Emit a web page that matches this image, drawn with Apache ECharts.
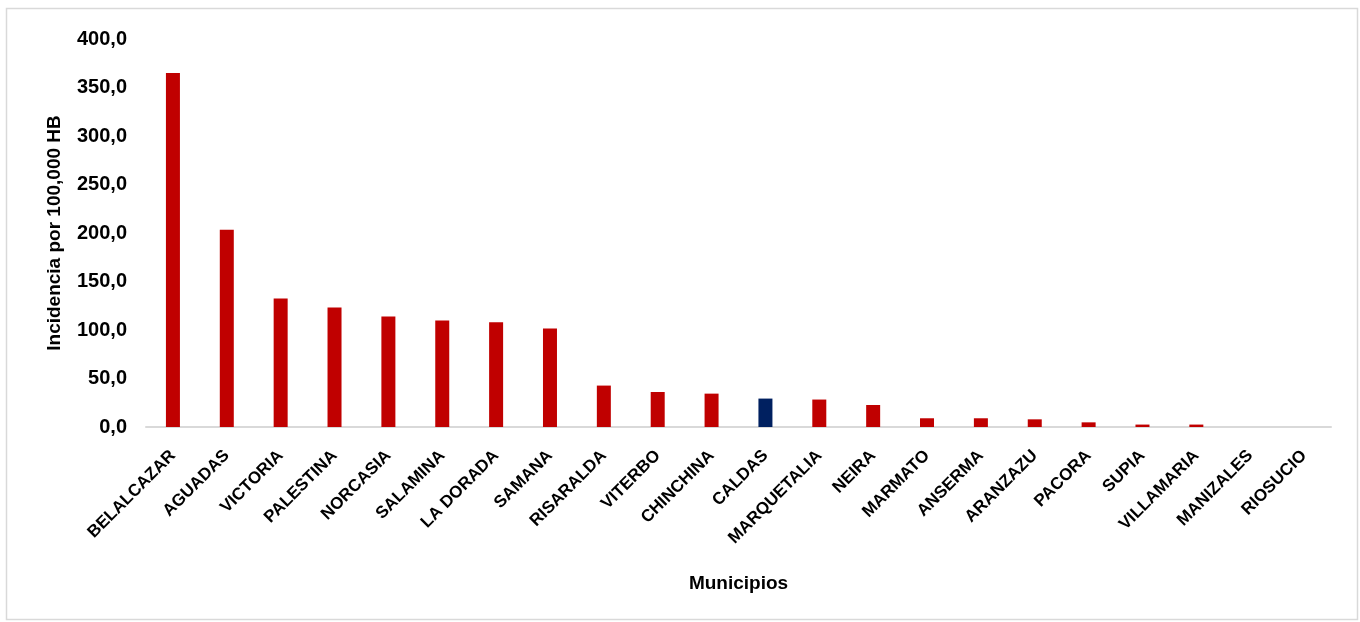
<!DOCTYPE html>
<html>
<head>
<meta charset="utf-8">
<script src="https://cdn.jsdelivr.net/npm/echarts@6/dist/echarts.min.js"></script>
<style>
html,body{margin:0;padding:0;background:#fff;}
#c{width:1360px;height:622px;}
</style>
</head>
<body>
<div id="c"></div>
<script>
const categories = ['BELALCAZAR','AGUADAS','VICTORIA','PALESTINA','NORCASIA','SALAMINA','LA DORADA','SAMANA','RISARALDA','VITERBO','CHINCHINA','CALDAS','MARQUETALIA','NEIRA','MARMATO','ANSERMA','ARANZAZU','PACORA','SUPIA','VILLAMARIA','MANIZALES','RIOSUCIO'];
const values = [365.0, 203.3, 132.5, 123.2, 113.9, 109.8, 108.0, 101.5, 42.7, 36.1, 34.4, 29.3, 28.3, 22.7, 9.0, 9.0, 7.9, 4.8, 2.5, 2.5, 0, 0];
const highlight = 'CALDAS';
const yTicks = [0, 50, 100, 150, 200, 250, 300, 350, 400];

const font = '"Liberation Sans", Arial, sans-serif';
const chart = echarts.init(document.getElementById('c'));
chart.setOption({
  animation: false,
  backgroundColor: '#fff',
  graphic: [{
    type: 'rect',
    shape: { x: 6.5, y: 8.5, width: 1351, height: 611 },
    style: { fill: 'none', stroke: '#d9d9d9', lineWidth: 1.5 },
    silent: true
  }],
  grid: { left: 146, right: 29, top: 39, bottom: 195, containLabel: false },
  xAxis: {
    type: 'category',
    data: categories,
    name: 'Municipios',
    nameLocation: 'middle',
    nameGap: 147,
    nameTextStyle: { fontFamily: font, fontWeight: 'bold', fontSize: 19, color: '#000' },
    axisLine: { lineStyle: { color: '#d9d9d9', width: 2 } },
    axisTick: { show: false },
    axisLabel: { rotate: 45, interval: 0, fontFamily: font, fontWeight: 'bold', fontSize: 17, color: '#000', margin: 26 }
  },
  yAxis: {
    type: 'value',
    min: yTicks[0],
    max: yTicks[yTicks.length - 1],
    interval: yTicks[1] - yTicks[0],
    name: 'Incidencia por 100,000 HB',
    nameLocation: 'middle',
    nameGap: 82,
    nameRotate: 90,
    nameTextStyle: { fontFamily: font, fontWeight: 'bold', fontSize: 19, color: '#000' },
    axisLine: { show: false },
    axisTick: { show: false },
    splitLine: { show: false },
    axisLabel: {
      fontFamily: font, fontWeight: 'bold', fontSize: 20, color: '#000', margin: 19,
      formatter: v => v.toFixed(1).replace('.', ',')
    }
  },
  series: [{
    type: 'bar',
    barWidth: 14,
    data: values.map((v, i) => ({
      value: v,
      itemStyle: { color: categories[i] === highlight ? '#002060' : '#C00000' }
    }))
  }]
});
</script>
</body>
</html>
